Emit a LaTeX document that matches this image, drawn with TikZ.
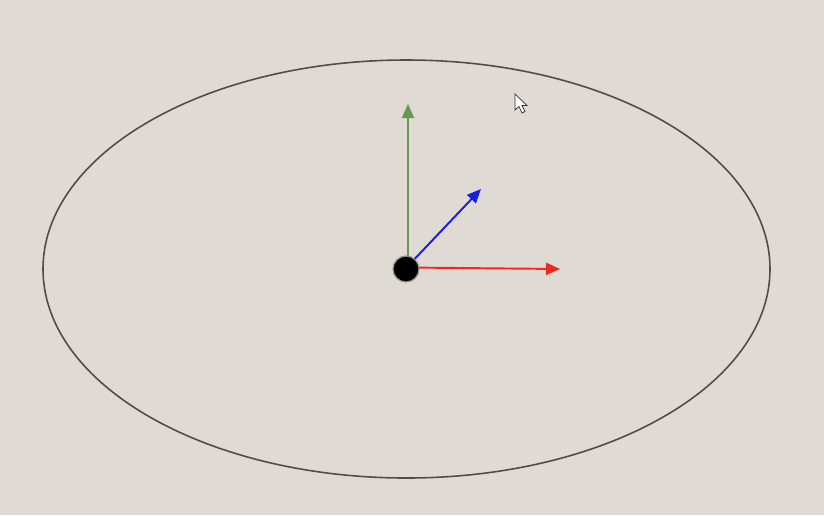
\documentclass[tikz,border=0pt]{standalone}
\usetikzlibrary{
  positioning,
  arrows.meta
}
\definecolor{papercolor}{RGB}{224,218,212}
\definecolor{orbitcolor}{RGB}{80,76,72}
\definecolor{ycolor}{RGB}{104,150,84}
\definecolor{zcolor}{RGB}{20,30,230}
\definecolor{xcolor}{RGB}{240,40,30}
\tikzset{
  orbit/.style={
    draw=orbitcolor,
    line width=0.9pt
  },
  axisarrow/.style={
    -{Triangle[length=2.8mm,width=2.4mm]},
    line width=1.1pt,
    color=#1
  },
  body/.style={
    circle,
    fill=black,
    draw=gray!85,
    line width=0.7pt,
    minimum size=0.52cm,
    inner sep=0pt
  }
}

\begin{document}
\begin{tikzpicture}[x=0.02cm, y=-0.02cm]

  % Background
  \fill[papercolor] (0,0) rectangle (824,515);
  \useasboundingbox (0,0) rectangle (824,515);

  % Orbit
  \draw[orbit] (406.5,269) ellipse [x radius=363.5, y radius=209];

  % Arrow tips
  \coordinate (ytip) at (408,104);
  \coordinate (ztip) at (481,189);
  \coordinate (xtip) at (560,269);

  % Axes
  \draw[axisarrow=ycolor] (408,269) -- (ytip);
  \draw[axisarrow=zcolor] (408,266) -- (ztip);
  \draw[axisarrow=xcolor] (408,267.5) -- (xtip);

  % Body
  \node[body] (center) at (406,269) {};

  % Mouse pointer
  \filldraw[fill=white, draw=black!80, line width=0.4pt]
    (515,94) -- (515,110) -- (519,106.5) -- (522,113) -- (525,111.5)
    -- (522,105.5) -- (527,105.5) -- cycle;

\end{tikzpicture}
\end{document}
